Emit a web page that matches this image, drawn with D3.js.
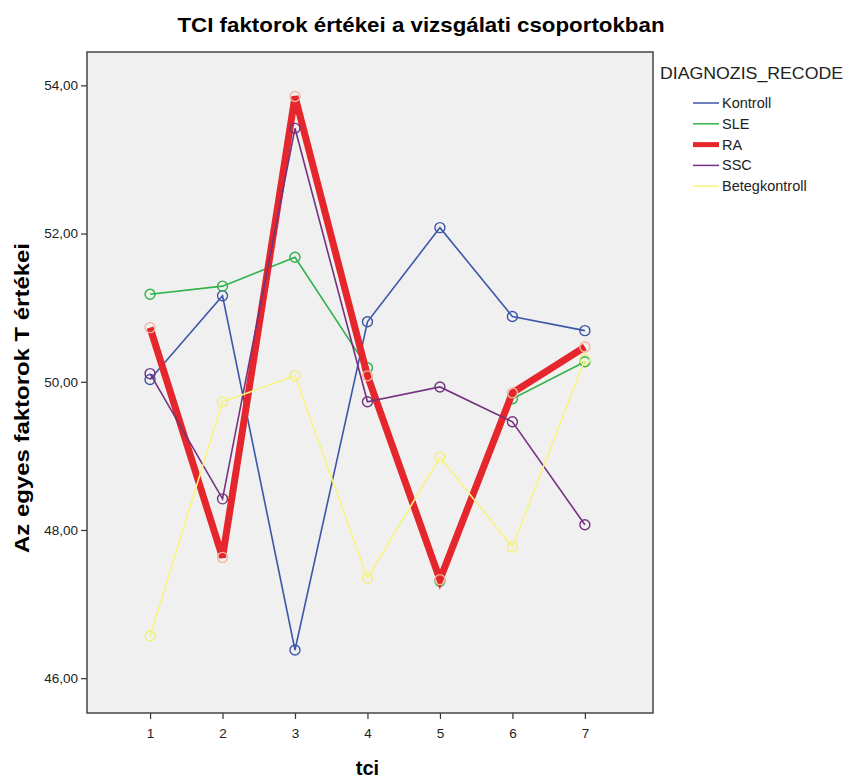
<!DOCTYPE html>
<html>
<head>
<meta charset="utf-8">
<script src="https://cdn.jsdelivr.net/npm/d3@7"></script>
<style>
	body { margin: 0; background: #fff; }
	text { font-family: "Liberation Sans", Arial, sans-serif; }
</style>
</head>
<body>
<div id="chart"></div>
<script>
// Data
var tci = [1, 2, 3, 4, 5, 6, 7];
var kontroll = [50.03, 51.16, 46.38, 50.81, 52.08, 50.88, 50.69];
var sle = [51.18, 51.29, 51.68, 50.19, 47.31, 49.77, 50.27];
var ra = [50.73, 47.63, 53.85, 50.08, 47.33, 49.85, 50.47];
var ssc = [50.11, 48.42, 53.42, 49.73, 49.93, 49.46, 48.07];
var betegkontroll = [46.57, 49.73, 50.08, 47.35, 48.98, 47.77, 50.30];
var groupNames = ['Kontroll', 'SLE', 'RA', 'SSC', 'Betegkontroll'];
var yTicks = [46, 48, 50, 52, 54];

var width = 846, height = 778;

// Series table built from the arrays
var series = [
	{ name: groupNames[0], values: kontroll, color: '#3d57a8', mark: '#3d57a8', w: 1.6 },
	{ name: groupNames[1], values: sle, color: '#2fb34a', mark: '#2fb34a', w: 1.6 },
	{ name: groupNames[2], values: ra, color: '#e5262c', mark: '#f4b59c', w: 7 },
	{ name: groupNames[3], values: ssc, color: '#74337f', mark: '#74337f', w: 1.6 },
	{ name: groupNames[4], values: betegkontroll, color: '#f7f57e', mark: '#f3ef7a', w: 1.6 }
];

var frame = { left: 87, right: 653, top: 52, bottom: 713 };

var x = d3.scaleLinear().domain([0.13, 7.94]).range([frame.left, frame.right]);
var y = d3.scaleLinear().domain([45.53, 54.45]).range([frame.bottom, frame.top]);

var svg = d3.select('#chart').append('svg')
	.attr('width', width)
	.attr('height', height);

// plot background
svg.append('rect')
	.attr('x', frame.left).attr('y', frame.top)
	.attr('width', frame.right - frame.left)
	.attr('height', frame.bottom - frame.top)
	.style('fill', '#f0f0f0')
	.style('stroke', 'none');

// title
svg.append('text')
	.attr('x', 421).attr('y', 32)
	.attr('text-anchor', 'middle')
	.attr('textLength', 487)
	.attr('lengthAdjust', 'spacingAndGlyphs')
	.style('font-size', '21px')
	.style('font-weight', 'bold')
	.text('TCI faktorok értékei a vizsgálati csoportokban');

// axes
var yAxis = d3.axisLeft(y).tickValues(yTicks).tickSize(6)
	.tickFormat(function(d) { return d3.format('.2f')(d).replace('.', ','); });
var xAxis = d3.axisBottom(x).tickValues(tci).tickSize(6).tickFormat(d3.format('d'));

var gy = svg.append('g').attr('transform', 'translate(' + frame.left + ',0)').call(yAxis);
var gx = svg.append('g').attr('transform', 'translate(0,' + frame.bottom + ')').call(xAxis);
[gx, gy].forEach(function(g) {
	g.select('.domain').remove();
	g.selectAll('line').style('stroke', '#333').style('stroke-width', 1.2);
	g.selectAll('text').style('font-size', '13.5px').style('fill', '#222')
		.style('font-family', '"Liberation Sans", Arial, sans-serif');
});
gy.selectAll('text').attr('x', -9);
gx.selectAll('text').attr('y', 15);

// axis titles
svg.append('text')
	.attr('transform', 'translate(29,' + 398 + ') rotate(-90)')
	.attr('text-anchor', 'middle')
	.attr('textLength', 310)
	.attr('lengthAdjust', 'spacingAndGlyphs')
	.style('font-size', '20px')
	.style('font-weight', 'bold')
	.text('Az egyes faktorok T értékei');

svg.append('text')
	.attr('x', x(4)).attr('y', 775)
	.attr('text-anchor', 'middle')
	.style('font-size', '20px')
	.style('font-weight', 'bold')
	.text('tci');

// lines
var line = d3.line()
	.x(function(d, i) { return x(tci[i]); })
	.y(function(d) { return y(d); });

var g = svg.append('g');
series.forEach(function(s) {
	g.append('path')
		.datum(s.values)
		.attr('d', line)
		.style('fill', 'none')
		.style('stroke', s.color)
		.style('stroke-width', s.w)
		.style('stroke-linejoin', 'miter');
	g.selectAll('.pt-' + s.name)
		.data(s.values)
		.enter().append('circle')
			.attr('cx', function(d, i) { return x(tci[i]); })
			.attr('cy', function(d) { return y(d); })
			.attr('r', 5)
			.style('fill', 'none')
			.style('stroke', s.mark)
			.style('stroke-width', 1.4);
});

// frame
svg.append('rect')
	.attr('x', frame.left).attr('y', frame.top)
	.attr('width', frame.right - frame.left)
	.attr('height', frame.bottom - frame.top)
	.style('fill', 'none')
	.style('stroke', '#444')
	.style('stroke-width', 1.5);

// legend
var legend = svg.append('g');
legend.append('text')
	.attr('x', 660).attr('y', 79)
	.attr('textLength', 183)
	.attr('lengthAdjust', 'spacingAndGlyphs')
	.style('font-size', '16.5px')
	.style('fill', '#222')
	.text('DIAGNOZIS_RECODE');

var item = legend.selectAll('.item')
	.data(series)
	.enter().append('g')
		.attr('class', 'item')
		.attr('transform', function(d, i) { return 'translate(0,' + (103 + i * 20.8) + ')'; });
item.append('line')
	.attr('x1', 693).attr('x2', 719)
	.style('stroke', function(d) { return d.color; })
	.style('stroke-width', function(d) { return d.w > 2 ? 5 : 1.5; });
item.append('text')
	.attr('x', 722).attr('y', 5)
	.style('font-size', '14.5px')
	.style('fill', '#222')
	.style('font-stretch', 'condensed')
	.text(function(d) { return d.name; });
</script>
</body>
</html>
